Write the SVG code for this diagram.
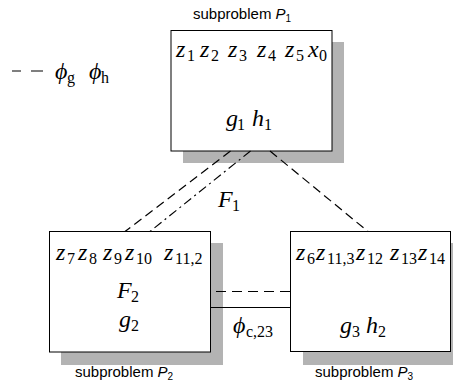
<svg xmlns="http://www.w3.org/2000/svg" width="453" height="385" viewBox="0 0 453 385">
<style>
.box{fill:#fff;stroke:#000;stroke-width:1}
.sh{fill:#b3b3b3}
.m{font-family:'Liberation Serif',serif;font-size:24px;font-style:italic;fill:#000}
.s{font-style:normal;font-size:16px}
.lab{font-family:'Liberation Sans',sans-serif;font-size:15px;fill:#000}
.ls{font-size:10px;font-style:normal}
.c{fill:none;stroke:#000;stroke-width:1.2}
.d{stroke-dasharray:9 5}
.dd{stroke-dasharray:9 4 2 4}
</style>
<g id="legend">
  <path class="c" d="M12 71H21M31 71H43"/>
  <text class="m" y="79"><tspan x="55">ϕ</tspan><tspan class="s" x="67" y="83">g</tspan><tspan x="89" y="79">ϕ</tspan><tspan class="s" x="101" y="83">h</tspan></text>
</g>
<g id="P1">
  <rect class="sh" x="183" y="42" width="161" height="121"/>
  <rect class="box" x="171" y="30.5" width="161" height="120.5"/>
  <text class="lab" y="19"><tspan x="193">subproblem </tspan><tspan font-style="italic">P</tspan><tspan class="ls" y="22">1</tspan></text>
  <text class="m" y="57"><tspan x="176">z</tspan><tspan class="s" x="187" y="61">1</tspan><tspan x="200" y="57">z</tspan><tspan class="s" x="211" y="61">2</tspan><tspan x="228" y="57">z</tspan><tspan class="s" x="239" y="61">3</tspan><tspan x="257" y="57">z</tspan><tspan class="s" x="268" y="61">4</tspan><tspan x="285" y="57">z</tspan><tspan class="s" x="296" y="61">5</tspan><tspan x="308" y="57">x</tspan><tspan class="s" x="319" y="61">0</tspan></text>
  <text class="m" y="126"><tspan x="226">g</tspan><tspan class="s" x="237" y="130">1</tspan><tspan x="252" y="126">h</tspan><tspan class="s" x="264" y="130">1</tspan></text>
</g>
<g id="P2">
  <rect class="sh" x="61" y="243" width="162" height="122"/>
  <rect class="box" x="49.5" y="231.5" width="161" height="120.5"/>
  <text class="lab" y="377"><tspan x="75">subproblem </tspan><tspan font-style="italic">P</tspan><tspan class="ls" y="380">2</tspan></text>
  <text class="m" y="260"><tspan x="56">z</tspan><tspan class="s" x="67" y="264">7</tspan><tspan x="78" y="260">z</tspan><tspan class="s" x="89" y="264">8</tspan><tspan x="103" y="260">z</tspan><tspan class="s" x="114" y="264">9</tspan><tspan x="125" y="260">z</tspan><tspan class="s" x="136" y="264">10</tspan><tspan x="164" y="260">z</tspan><tspan class="s" x="175" y="264">11,2</tspan></text>
  <text class="m" y="298"><tspan x="117">F</tspan><tspan class="s" x="131" y="302">2</tspan></text>
  <text class="m" y="327"><tspan x="119">g</tspan><tspan class="s" x="131" y="331">2</tspan></text>
</g>
<g id="P3">
  <rect class="sh" x="303" y="243" width="162" height="122"/>
  <rect class="box" x="290.5" y="231.5" width="160" height="120"/>
  <text class="lab" y="377"><tspan x="315">subproblem </tspan><tspan font-style="italic">P</tspan><tspan class="ls" y="380">3</tspan></text>
  <text class="m" y="260"><tspan x="296">z</tspan><tspan class="s" x="307" y="264">6</tspan><tspan x="316" y="260">z</tspan><tspan class="s" x="327" y="264">11,3</tspan><tspan x="356" y="260">z</tspan><tspan class="s" x="367" y="264">12</tspan><tspan x="390" y="260">z</tspan><tspan class="s" x="401" y="264">13</tspan><tspan x="418" y="260">z</tspan><tspan class="s" x="429" y="264">14</tspan></text>
  <text class="m" y="333"><tspan x="340">g</tspan><tspan class="s" x="352" y="337">3</tspan><tspan x="366" y="333">h</tspan><tspan class="s" x="378" y="337">2</tspan></text>
</g>
<g id="connectors">
  <path class="c d" d="M230.5 151L125 231.5"/>
  <path class="c dd" d="M250.5 151L150 231.5"/>
  <path class="c d" d="M270 151L368 231.5"/>
  <path class="c" stroke-dasharray="10 6" d="M216 291.5H290.5"/>
  <path class="c" d="M210.5 307.5H290.5"/>
  <text class="m" y="207"><tspan x="218">F</tspan><tspan class="s" x="232" y="211">1</tspan></text>
  <text class="m" y="333"><tspan x="233">ϕ</tspan><tspan class="s" x="246" y="337">c,23</tspan></text>
</g>
</svg>
